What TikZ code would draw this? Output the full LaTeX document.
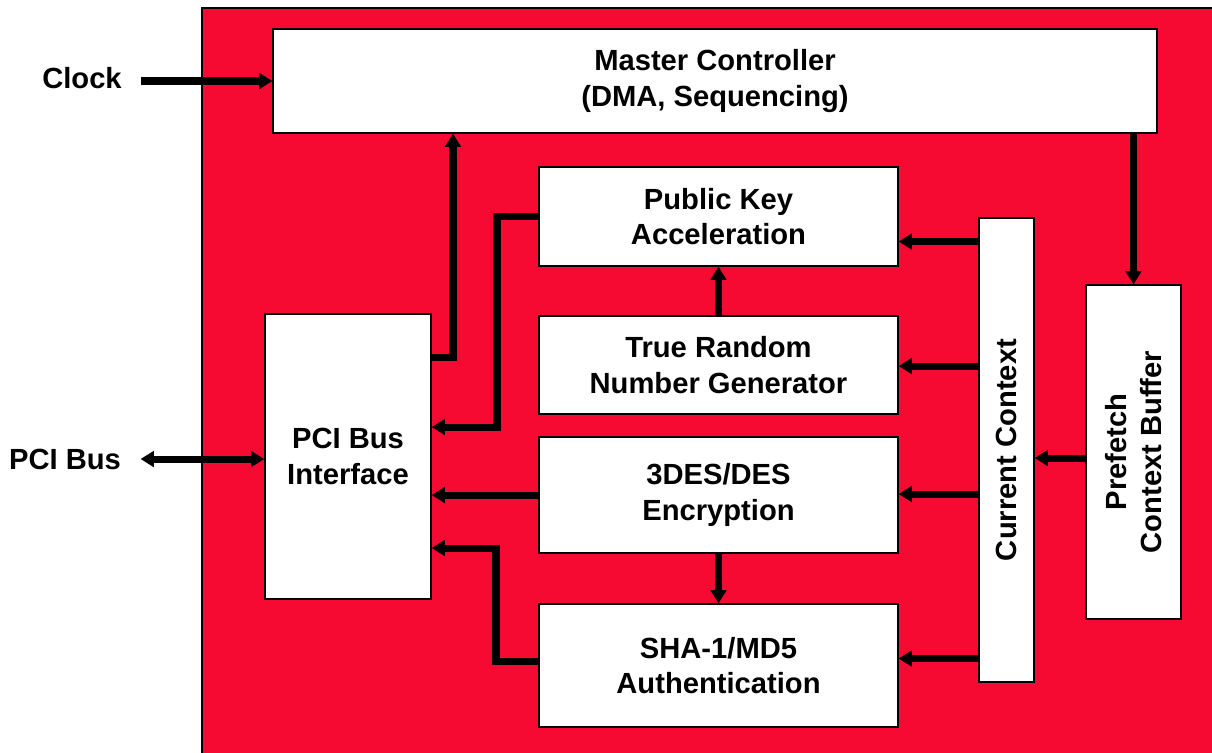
\documentclass[tikz,border=0pt]{standalone}
\usepackage{fontspec}
\setmainfont{Liberation Sans}
\usetikzlibrary{arrows.meta,calc}

\definecolor{chipred}{RGB}{246,10,50}

\tikzset{
	unit/.style={draw=black, line width=0.8pt, fill=white, align=center, inner sep=0pt},
	tag/.style={inner xsep=11pt, inner ysep=0pt},
	bus/.style={line width=4pt, -{Triangle[length=7.5pt,width=8.8pt]}},
	busboth/.style={line width=4pt, {Triangle[length=7.5pt,width=8.8pt]}-{Triangle[length=7.5pt,width=8.8pt]}},
}

\begin{document}
\begin{tikzpicture}[x=0.02cm, y=-0.02cm, font=\fontsize{16.6pt}{20.4pt}\selectfont\bfseries]
	\useasboundingbox (0,0) rectangle (1212,752);
	
	% Red chip area
	\draw [fill=chipred, line width=1.4pt] (202,8) rectangle (1240,780);
	
	% Blocks
	\node [unit, minimum width=17.68cm, minimum height=2.08cm] (mc) at (715,81) {Master Controller\\(DMA, Sequencing)};
	\node [unit, minimum width=7.18cm, minimum height=1.98cm] (pk) at (718.5,216.5) {Public Key\\Acceleration};
	\node [unit, minimum width=7.18cm, minimum height=1.96cm] (trng) at (718.5,365) {True Random\\Number Generator};
	\node [unit, minimum width=7.18cm, minimum height=2.32cm] (des) at (718.5,495) {3DES/DES\\Encryption};
	\node [unit, minimum width=7.18cm, minimum height=2.46cm] (sha) at (718.5,665.5) {SHA-1/MD5\\Authentication};
	\node [unit, minimum width=3.32cm, minimum height=5.70cm] (pci) at (348,456.5) {PCI Bus\\Interface};
	
	% Context blocks (text turned)
	\node [unit, minimum width=1.10cm, minimum height=9.28cm] (cc) at (1006.5,450) {};
	\node [rotate=90] at (cc) {Current Context};
	\node [unit, minimum width=1.90cm, minimum height=6.68cm] (pf) at (1133.5,452) {};
	\node [rotate=90, align=center] at (pf) {Prefetch\\Context Buffer};
	
	% Outside signals
	\node [tag] (clk) at (82,78) {Clock};
	\node [tag] (pcib) at (65,459) {PCI Bus};
	
	% Clock and bus
	\draw [bus] (clk.east |- mc.west) -- (mc.west);
	\draw [busboth] (pcib.east) -- (pci.west |- pcib.east);
	
	% PCI interface links
	\coordinate (mcup) at (453,357);
	\draw [bus] (pci.east |- mcup) -- (mcup) -- (mcup |- mc.south);
	\coordinate (pkdown) at (497,427);
	\draw [bus] (pk.west) -| (pkdown) -- (pci.east |- pkdown);
	\draw [bus] (des.west) -- (pci.east |- des.west);
	\coordinate (shaup) at (496,548);
	\draw [bus] ($(sha.west)+(0,-4)$) -| (shaup) -- (pci.east |- shaup);
	
	% Between blocks
	\draw [bus] (trng.north) -- (pk.south);
	\draw [bus] (des.south) -- (sha.north);
	
	% Current context feeds
	\foreach \blk/\dy in {pk/25, trng/1, des/-1, sha/-7} {
		\coordinate (ctx) at ($(\blk.east)+(0,\dy)$);
		\draw [bus] (cc.west |- ctx) -- (ctx);
	}
	\coordinate (pfin) at ($(pf.west)+(0,6)$);
	\draw [bus] (pfin) -- (cc.east |- pfin);
	\draw [bus] (mc.south -| pf.north) -- (pf.north);
\end{tikzpicture}
\end{document}
